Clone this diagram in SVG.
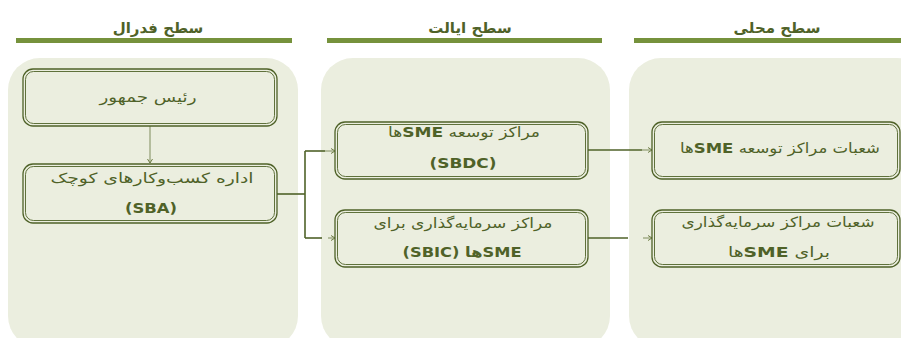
<svg xmlns="http://www.w3.org/2000/svg" width="901" height="338" viewBox="0 0 901 338">
<defs>
<style>
.hdr{font-family:"DejaVu Sans","Noto Sans",sans-serif;font-size:15px;font-weight:bold;fill:#4F6228;text-anchor:middle}
.hl{fill:#76923C}
.panel{fill:#EBEEDF}
.bo{fill:none;stroke:#4F6228;stroke-width:1.3}
.bi{fill:none;stroke:#4F6228;stroke-width:0.9}
.t{font-family:"DejaVu Sans","Noto Sans",sans-serif;font-size:14px;fill:#4F6228;text-anchor:middle}
.lt{font-family:"DejaVu Sans","Liberation Sans",sans-serif;font-size:14px;font-weight:bold;fill:#4F6228;text-anchor:middle}
.b{font-family:"DejaVu Sans","Liberation Sans",sans-serif;font-weight:bold}
.c{fill:none;stroke:#4F6228;stroke-width:1.6}
.ca{fill:none;stroke:#7E8C5C;stroke-width:1}
</style>
<marker id="ah" markerWidth="6" markerHeight="6" refX="5" refY="3" orient="auto" markerUnits="userSpaceOnUse">
<path d="M1,0.5 L5,3 L1,5.5" fill="none" stroke="#6E7D45" stroke-width="1"/>
</marker>
</defs>
<rect width="901" height="338" fill="#FFFFFF"/>

<g id="headers">
<rect class="hl" x="16" y="38" width="276" height="5"/>
<rect class="hl" x="327" y="38" width="275" height="5"/>
<rect class="hl" x="634" y="38" width="267" height="5"/>
<text class="hdr" x="158" y="33" direction="rtl">سطح فدرال</text>
<text class="hdr" x="470" y="33" direction="rtl">سطح ایالت</text>
<text class="hdr" x="777" y="33" direction="rtl">سطح محلی</text>
</g>

<g id="panels">
<rect class="panel" x="8" y="58" width="290" height="290" rx="32"/>
<rect class="panel" x="321" y="58" width="289" height="290" rx="32"/>
<rect class="panel" x="629" y="58" width="300" height="290" rx="32"/>
</g>

<g id="connectors">
<line class="ca" x1="150" y1="126" x2="150" y2="163" marker-end="url(#ah)"/>
<polyline class="c" points="277,194 305,194"/>
<polyline class="c" points="305,151 305,238"/>
<line class="c" x1="305" y1="151" x2="325" y2="151"/>
<line class="ca" x1="325" y1="151" x2="335" y2="151" marker-end="url(#ah)"/>
<line class="c" x1="305" y1="238" x2="322" y2="238"/>
<line class="ca" x1="328" y1="238" x2="335" y2="238" marker-end="url(#ah)"/>
<line class="c" x1="588" y1="150" x2="642" y2="150"/>
<line class="ca" x1="642" y1="150" x2="652" y2="150" marker-end="url(#ah)"/>
<line class="c" x1="588" y1="238" x2="628" y2="238"/>
<line class="ca" x1="643" y1="238" x2="652" y2="238" marker-end="url(#ah)"/>
</g>

<g id="n1">
<rect class="bo" x="23" y="69" width="254" height="57" rx="10"/>
<rect class="bi" x="25.5" y="71.5" width="249" height="52" rx="8"/>
<text class="t" x="148" y="102" direction="rtl" textLength="97" lengthAdjust="spacingAndGlyphs">رئیس جمهور</text>
</g>

<g id="n2">
<rect class="bo" x="23" y="164" width="254" height="59" rx="10"/>
<rect class="bi" x="25.5" y="166.5" width="249" height="54" rx="8"/>
<text class="t" x="152" y="183" direction="rtl" textLength="203" lengthAdjust="spacingAndGlyphs">اداره کسب‌وکارهای کوچک</text>
<text class="lt" x="151" y="213" textLength="52" lengthAdjust="spacingAndGlyphs">(SBA)</text>
</g>

<g id="n3">
<rect class="bo" x="335" y="122" width="253" height="57" rx="10"/>
<rect class="bi" x="337.5" y="124.5" width="248" height="52" rx="8"/>
<text class="t" x="464" y="137" direction="rtl" textLength="152" lengthAdjust="spacingAndGlyphs">مراکز توسعه <tspan class="b">SME</tspan>ها</text>
<text class="lt" x="463" y="168" textLength="67" lengthAdjust="spacingAndGlyphs">(SBDC)</text>
</g>

<g id="n4">
<rect class="bo" x="335" y="210" width="253" height="57" rx="10"/>
<rect class="bi" x="337.5" y="212.5" width="248" height="52" rx="8"/>
<text class="t" x="463" y="228" direction="rtl" textLength="179" lengthAdjust="spacingAndGlyphs">مراکز سرمایه‌گذاری برای</text>
<text class="lt" x="462" y="257" direction="rtl" textLength="119" lengthAdjust="spacingAndGlyphs">SMEها (SBIC)</text>
</g>

<g id="n5">
<rect class="bo" x="652" y="122" width="248" height="57" rx="10"/>
<rect class="bi" x="654.5" y="124.5" width="243" height="52" rx="8"/>
<text class="t" x="780" y="153" direction="rtl" textLength="200" lengthAdjust="spacingAndGlyphs">شعبات مراکز توسعه <tspan class="b">SME</tspan>ها</text>
</g>

<g id="n6">
<rect class="bo" x="652" y="210" width="248" height="57" rx="10"/>
<rect class="bi" x="654.5" y="212.5" width="243" height="52" rx="8"/>
<text class="t" x="778" y="227" direction="rtl" textLength="193" lengthAdjust="spacingAndGlyphs">شعبات مراکز سرمایه‌گذاری</text>
<text class="t" x="779" y="257" direction="rtl" textLength="102" lengthAdjust="spacingAndGlyphs">برای  <tspan class="b">SME</tspan>ها</text>
</g>
</svg>
